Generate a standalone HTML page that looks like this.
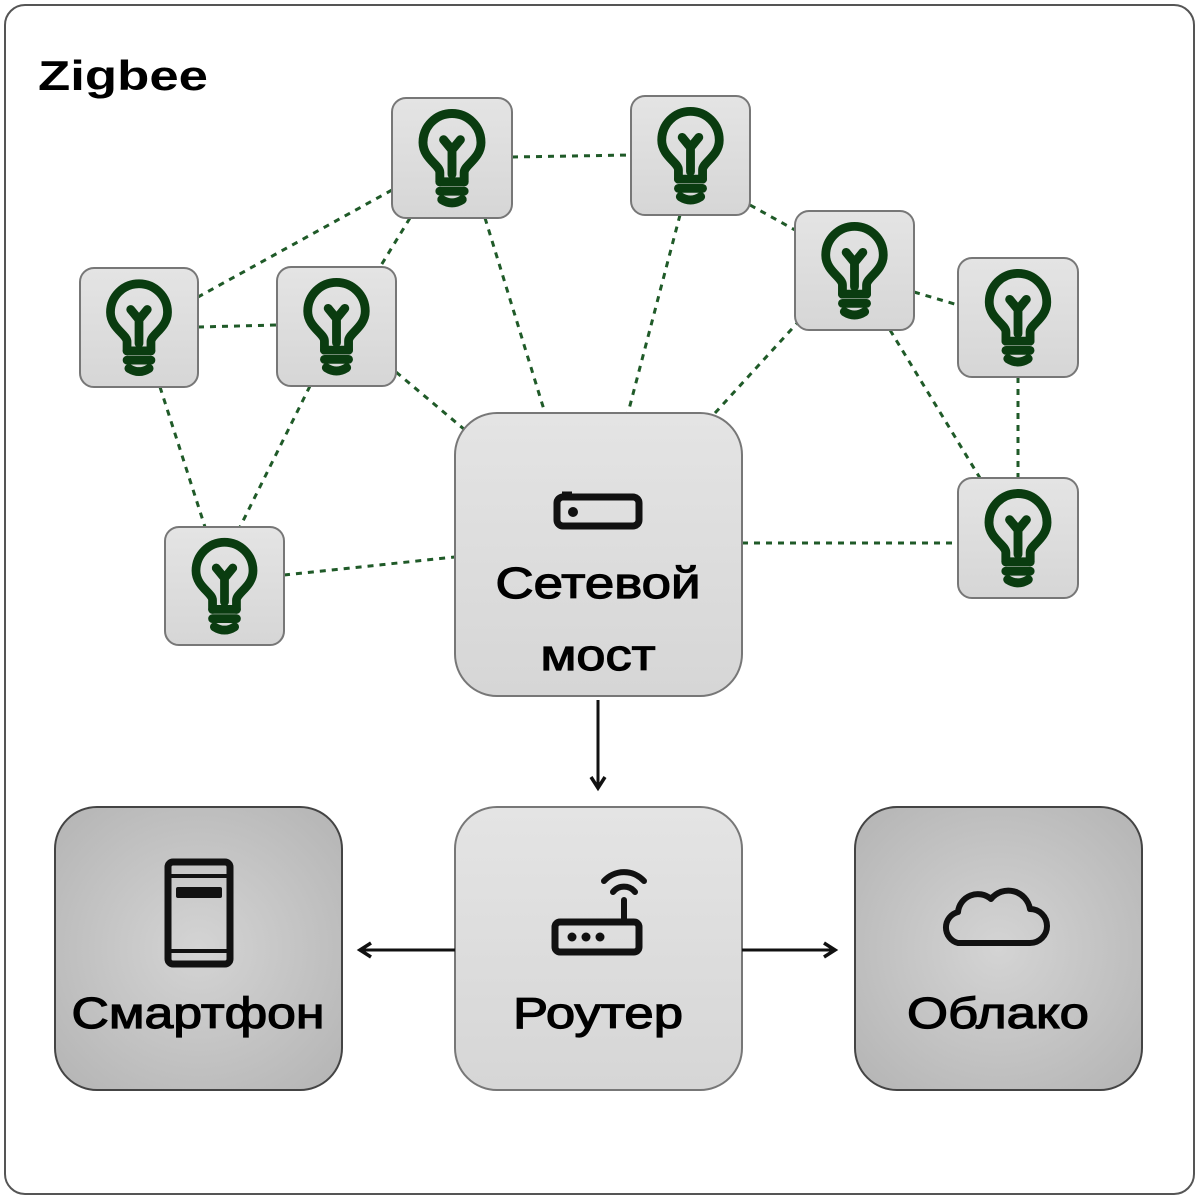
<!DOCTYPE html>
<html><head><meta charset="utf-8"><style>html,body{margin:0;padding:0;background:#fff}svg{display:block}</style></head><body>
<svg width="1199" height="1200" viewBox="0 0 1199 1200" xmlns="http://www.w3.org/2000/svg">
<defs>
<linearGradient id="g" x1="0" y1="0" x2="0" y2="1"><stop offset="0" stop-color="#e4e4e4"/><stop offset="1" stop-color="#d6d6d6"/></linearGradient>
<radialGradient id="d" cx="0.5" cy="0.5" r="0.7"><stop offset="0" stop-color="#d4d4d4"/><stop offset="1" stop-color="#b4b4b4"/></radialGradient>
<symbol id="bulb" viewBox="-59 -59 118 118" overflow="visible">
<g transform="translate(0,5) scale(0.92)" fill="none" stroke="#0a3c10" stroke-width="9.5" stroke-linecap="round" stroke-linejoin="round">
<path d="M-13 20 L-13 10 C-13 2 -31 -5 -31 -22 A31 31 0 1 1 31 -22 C31 -5 13 2 13 10 L13 20"/>
<path d="M-13 20 H13 M-13 30 H13 M-11 39 Q0 46 11 39"/>
<path d="M0 12 V-14 M0 -14 L-9 -25 M0 -14 L9 -25"/>
</g>
</symbol>
<marker id="ah" markerWidth="18" markerHeight="18" refX="14" refY="9" orient="auto" markerUnits="userSpaceOnUse"><path d="M3 2 L14 9 L3 16" fill="none" stroke="#111" stroke-width="3.5"/></marker>
</defs>
<rect x="5" y="5" width="1189" height="1189" rx="20" fill="#fff" stroke="#555" stroke-width="2"/>
<text x="38" y="90" font-family="Liberation Sans, sans-serif" font-weight="bold" font-size="42" fill="#000" textLength="170" lengthAdjust="spacingAndGlyphs">Zigbee</text>
<g stroke="#1f5a28" stroke-width="3" stroke-dasharray="6 6" fill="none">
<line x1="512" y1="157" x2="631" y2="155"/>
<line x1="392" y1="190" x2="198" y2="297"/>
<line x1="410" y1="218" x2="380" y2="267"/>
<line x1="485" y1="218" x2="545" y2="413"/>
<line x1="680" y1="215" x2="628" y2="413"/>
<line x1="750" y1="205" x2="795" y2="230"/>
<line x1="198" y1="327" x2="277" y2="325"/>
<line x1="160" y1="387" x2="205" y2="527"/>
<line x1="310" y1="386" x2="240" y2="527"/>
<line x1="396" y1="372" x2="465" y2="430"/>
<line x1="284" y1="575" x2="455" y2="557"/>
<line x1="800" y1="320" x2="715" y2="413"/>
<line x1="914" y1="292" x2="958" y2="305"/>
<line x1="890" y1="330" x2="980" y2="478"/>
<line x1="1018" y1="377" x2="1018" y2="478"/>
<line x1="742" y1="543" x2="958" y2="543"/>
</g>
<g stroke="#777" stroke-width="2" fill="url(#g)">
<rect x="392" y="98" width="120" height="120" rx="14"/>
<rect x="631" y="96" width="119" height="119" rx="14"/>
<rect x="795" y="211" width="119" height="119" rx="14"/>
<rect x="958" y="258" width="120" height="119" rx="14"/>
<rect x="80" y="268" width="118" height="119" rx="14"/>
<rect x="277" y="267" width="119" height="119" rx="14"/>
<rect x="958" y="478" width="120" height="120" rx="14"/>
<rect x="165" y="527" width="119" height="118" rx="14"/>
<rect x="455" y="413" width="287" height="283" rx="42"/>
<rect x="455" y="807" width="287" height="283" rx="42"/>
</g>
<g stroke="#444" stroke-width="2" fill="url(#d)">
<rect x="55" y="807" width="287" height="283" rx="42"/>
<rect x="855" y="807" width="287" height="283" rx="42"/>
</g>
<use href="#bulb" x="392" y="98" width="120" height="120"/>
<use href="#bulb" x="631" y="96" width="119" height="119"/>
<use href="#bulb" x="795" y="211" width="119" height="119"/>
<use href="#bulb" x="958" y="258" width="120" height="119"/>
<use href="#bulb" x="80" y="268" width="118" height="119"/>
<use href="#bulb" x="277" y="267" width="119" height="119"/>
<use href="#bulb" x="958" y="478" width="120" height="120"/>
<use href="#bulb" x="165" y="527" width="119" height="118"/>
<g stroke="#111" stroke-width="3" fill="none">
<line x1="598" y1="700" x2="598" y2="788" marker-end="url(#ah)"/>
<line x1="455" y1="950" x2="360" y2="950" marker-end="url(#ah)"/>
<line x1="742" y1="950" x2="835" y2="950" marker-end="url(#ah)"/>
</g>
<g fill="none" stroke="#111" stroke-width="7" stroke-linejoin="round">
<rect x="557" y="497" width="82" height="29" rx="6"/>
<line x1="562" y1="494" x2="572" y2="494" stroke-width="5"/>
</g>
<circle cx="573" cy="512" r="5" fill="#111"/>
<g stroke="#111" fill="none" stroke-width="7" stroke-linejoin="round">
<rect x="168" y="862" width="62" height="102" rx="5"/>
<line x1="168" y1="876" x2="230" y2="876" stroke-width="4"/>
<line x1="168" y1="951" x2="230" y2="951" stroke-width="4"/>
</g>
<rect x="176" y="887" width="46" height="11" rx="2" fill="#111"/>
<g stroke="#111" fill="none" stroke-linecap="round">
<rect x="555" y="922" width="84" height="30" rx="5" stroke-width="7"/>
<line x1="624" y1="922" x2="624" y2="900" stroke-width="6"/>
<path d="M613 892 A14 14 0 0 1 635 892" stroke-width="6"/>
<path d="M604 881 A27 27 0 0 1 644 881" stroke-width="6"/>
</g>
<circle cx="572" cy="937" r="4.5" fill="#111"/><circle cx="586" cy="937" r="4.5" fill="#111"/><circle cx="600" cy="937" r="4.5" fill="#111"/>
<path d="M958 943 H1030 A17 17 0 0 0 1030 909 A22 22 0 0 0 991 899 A20 20 0 0 0 958 912 A16 16 0 0 0 958 943 Z" fill="none" stroke="#111" stroke-width="6" stroke-linejoin="round"/>
<g font-family="Liberation Sans, sans-serif" font-size="44" fill="#000" stroke="#000" stroke-width="1.2" text-anchor="middle">
<text x="598" y="598" textLength="205" lengthAdjust="spacingAndGlyphs">Сетевой</text>
<text x="598" y="670" textLength="115" lengthAdjust="spacingAndGlyphs">мост</text>
<text x="198" y="1028" textLength="253" lengthAdjust="spacingAndGlyphs">Смартфон</text>
<text x="598" y="1028" textLength="170" lengthAdjust="spacingAndGlyphs">Роутер</text>
<text x="998" y="1028" textLength="182" lengthAdjust="spacingAndGlyphs">Облако</text>
</g>
</svg>
</body></html>
